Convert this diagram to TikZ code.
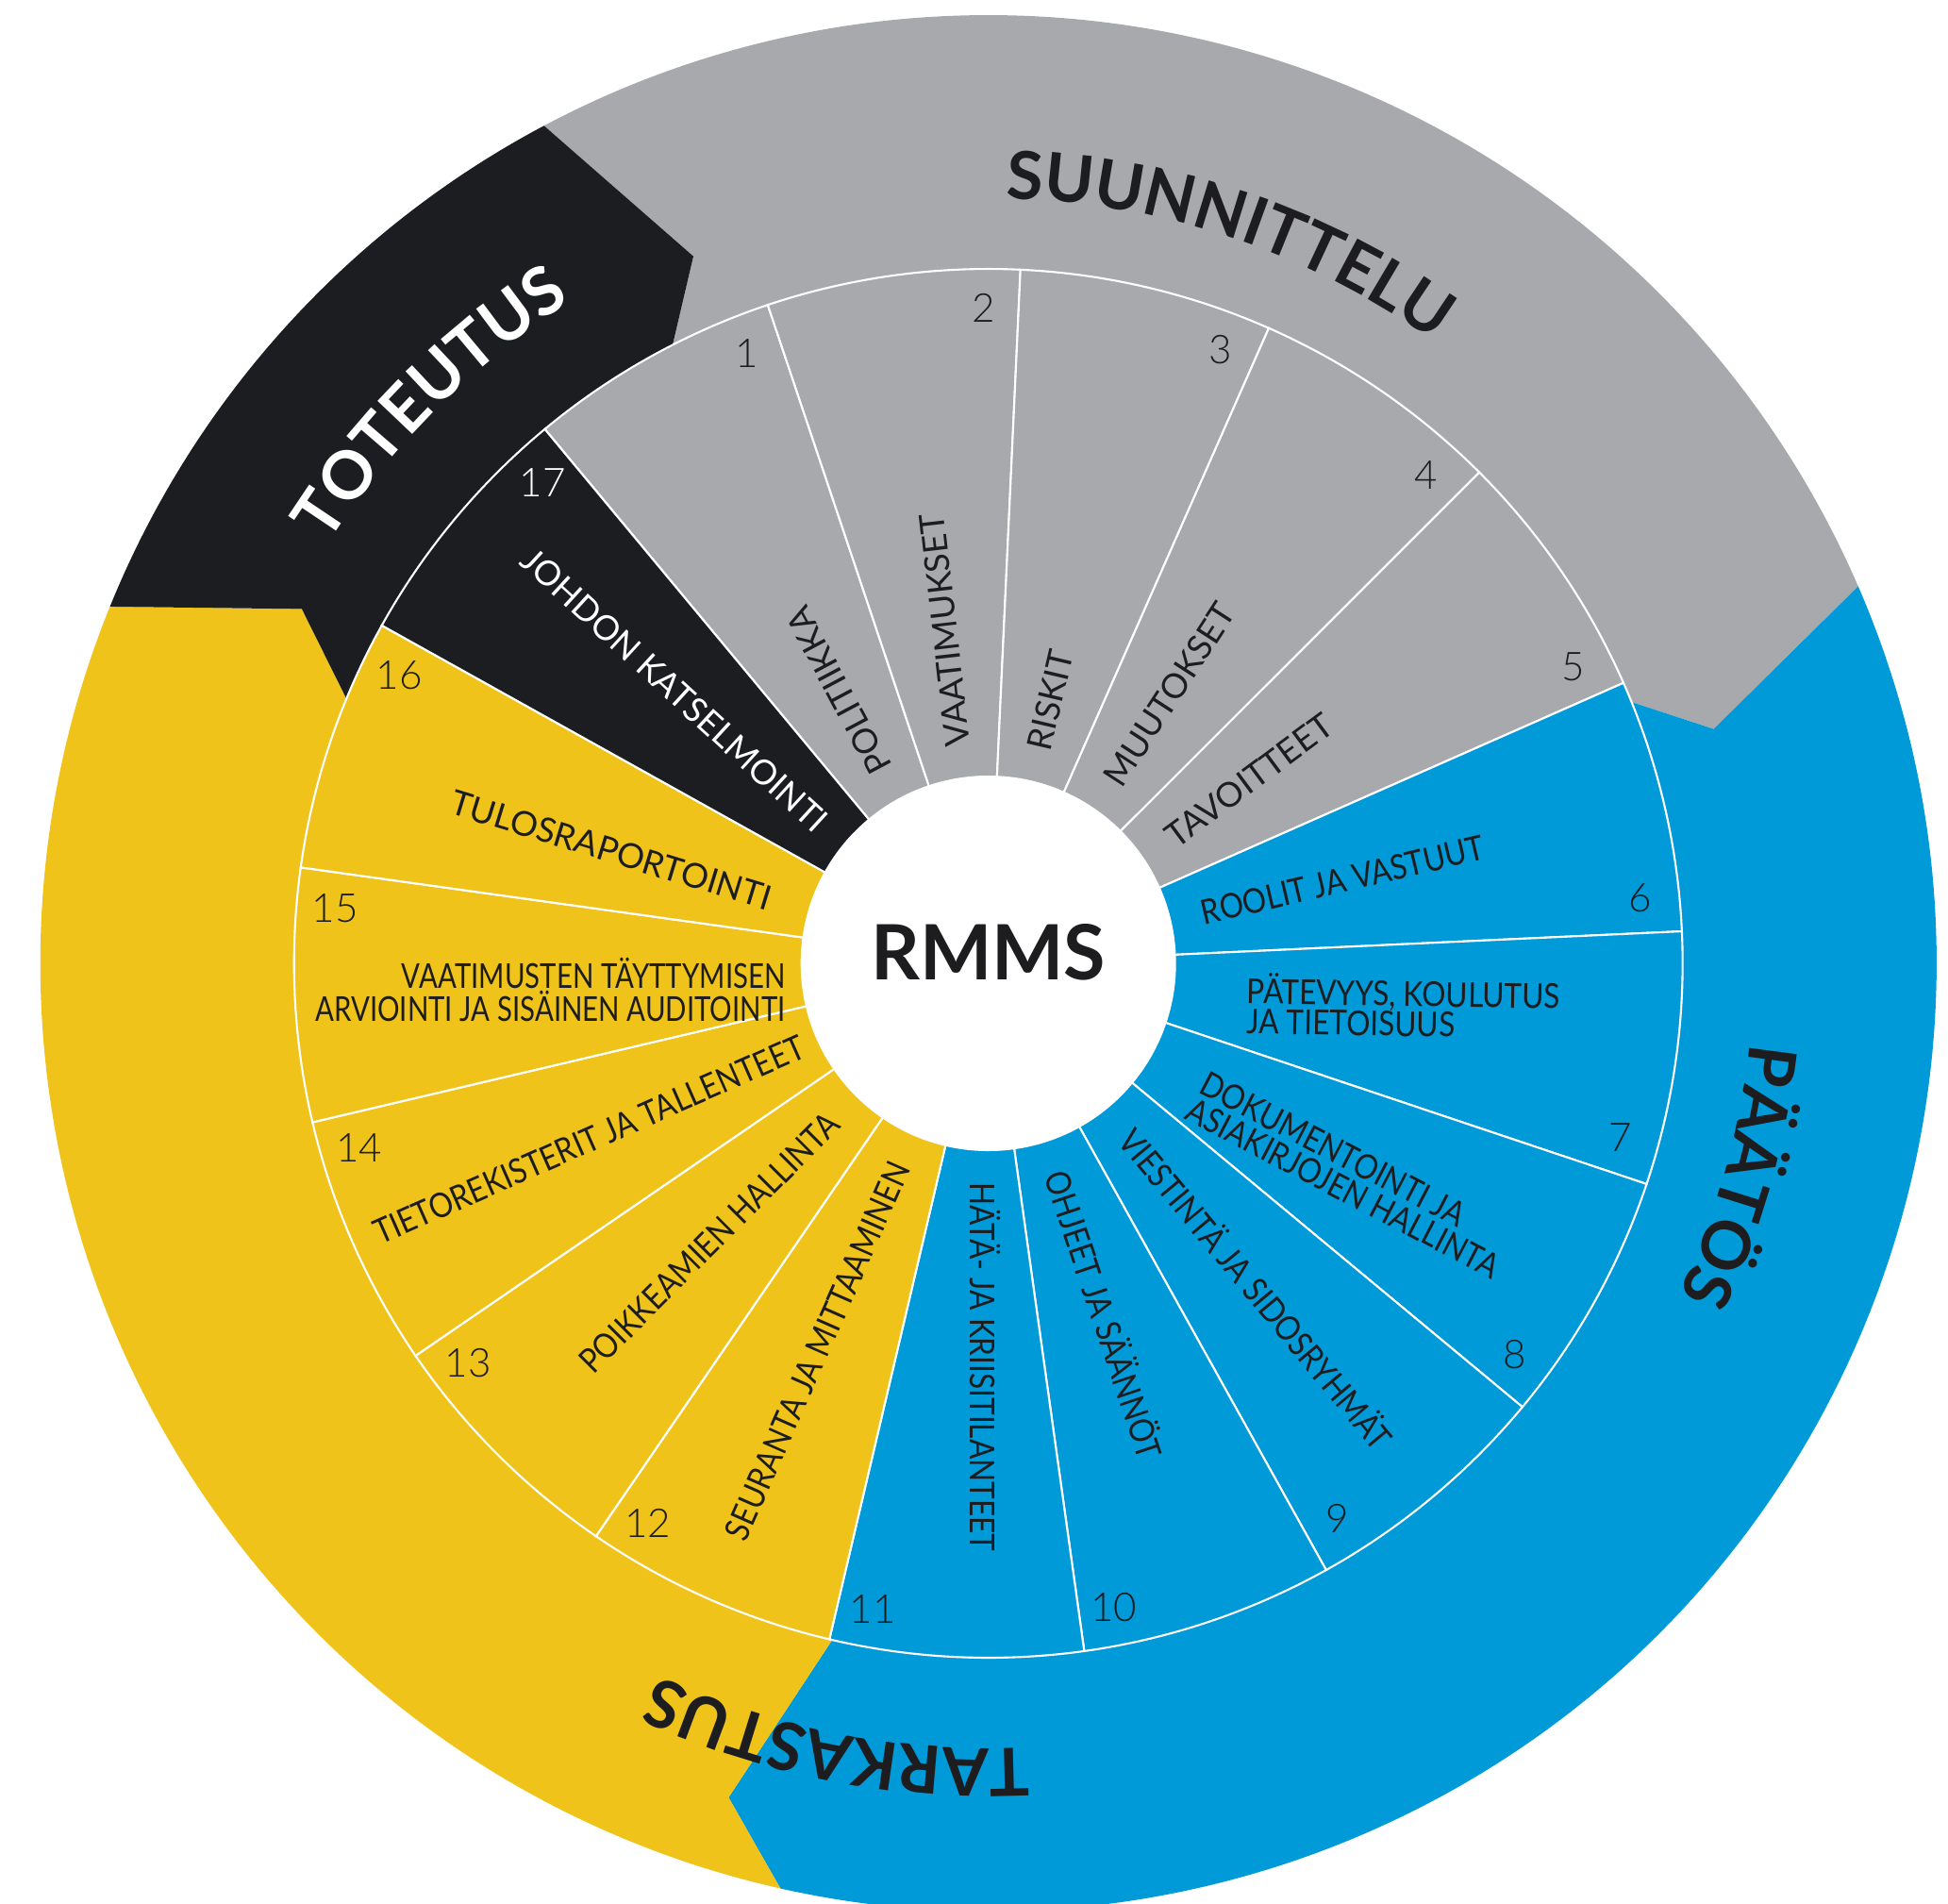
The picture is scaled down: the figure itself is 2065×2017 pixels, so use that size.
\documentclass[tikz,border=0pt]{standalone}
\usepackage{fontspec}
\setmainfont{Lato}
\newfontfamily\headfont[LetterSpace=11]{Lato}
\newfontfamily\narrowfont[FakeStretch=0.87]{Lato}
\newfontfamily\tightfont[FakeStretch=0.81]{Lato}
\IfFontExistsTF{Lato Light}{\newfontfamily\numfont{Lato Light}}{\newfontfamily\numfont{Lato}}
\usetikzlibrary{decorations.text}
\definecolor{rmgray}{HTML}{A7A9AC}
\definecolor{rmblue}{HTML}{009AD9}
\definecolor{rmyellow}{HTML}{F0C31B}
\definecolor{rmblack}{HTML}{1C1D21}
\definecolor{rmtext}{HTML}{1D1D1F}
\setlength{\lineskiplimit}{-10pt}
\newcommand{\phasefont}{\headfont\bfseries\fontsize{30}{32}\selectfont}
\tikzset{
  segment/.style={draw=white,line width=0.9pt},
  seglabel/.style={font=\fontsize{15.5}{13.6}\selectfont,text=rmtext,inner sep=0pt},
  narrowlabel/.style={seglabel,font=\narrowfont\fontsize{15.5}{13.6}\selectfont},
  segnum/.style={font=\numfont\fontsize{18}{18}\selectfont,inner sep=0pt},
  phase/.style={decorate,decoration={text along path,text align=center,text color=#1}},
}

\begin{document}
\begin{tikzpicture}[x=0.015cm,y=0.015cm]
\useasboundingbox (-1047.7,-996) rectangle (1017.3,1021);
% outer ring, four phases
\fill[rmgray] (112.65:812) -- (117.95:1005) arc[start angle=117.95,end angle=23.43,radius=1005]
  -- (17.9:808) -- (22.1:736) arc[start angle=22.1,end angle=117.05,radius=736] -- cycle;
\fill[rmblue] (17.9:808) -- (23.43:1005) arc[start angle=23.43,end angle=-102.67,radius=1005]
  -- (-107.3:926) -- (-103:736) arc[start angle=-103,end angle=22.1,radius=736] -- cycle;
\fill[rmyellow] (-107.3:926) -- (-102.67:1005) arc[start angle=-102.67,end angle=-202.1,radius=1005]
  -- (-207.3:819) -- (-202.4:736) arc[start angle=-202.4,end angle=-103,radius=736] -- cycle;
\fill[rmblack] (-207.3:819) -- (-202.1:1005) arc[start angle=-202.1,end angle=-242.05,radius=1005]
  -- (-247.35:812) -- (-242.95:736) arc[start angle=-242.95,end angle=-202.4,radius=736] -- cycle;
% 17 segments
\foreach \k/\col in {1/rmgray,2/rmgray,3/rmgray,4/rmgray,5/rmgray,6/rmblue,7/rmblue,8/rmblue,9/rmblue,
    10/rmblue,11/rmblue,12/rmyellow,13/rmyellow,14/rmyellow,15/rmyellow,16/rmyellow,17/rmblack} {
  \pgfmathsetmacro{\a}{129.7-21.176*(\k-1)}
  \pgfmathsetmacro{\b}{\a-21.176}
  \filldraw[segment,fill=\col] (0,0) -- (\a:736) arc[start angle=\a,end angle=\b,radius=736] -- cycle;
}
\node[circle,fill=white,minimum size=5.97cm,inner sep=0pt] (hub) at (0,0) {};
\node[font=\bfseries\fontsize{34.5}{36}\selectfont,text=rmtext] (rmms) at (0,12) {RMMS};
% numbers
\foreach \k/\tc in {1/rmtext,2/rmtext,3/rmtext,4/rmtext,5/rmtext,6/rmtext,7/rmtext,8/rmtext,9/rmtext,
    10/rmtext,11/rmtext,12/rmtext,13/rmtext,14/rmtext,15/rmtext,16/rmtext,17/white} {
  \pgfmathsetmacro{\a}{132.8-21.176*\k}
  \node[segnum,text=\tc] (n\k) at (\a:695) {\k};
}
% segment labels
\node[seglabel,anchor=west,rotate=118] (l1) at (119.11:232) {POLITIIKKA};
\node[seglabel,anchor=west,rotate=96.5] (l2) at (97.94:232) {VAATIMUKSET};
\node[seglabel,anchor=west,rotate=76.76] (l3) at (76.76:232) {RISKIT};
\node[seglabel,anchor=west,rotate=57] (l4) at (55.58:232) {MUUTOKSET};
\node[seglabel,anchor=west,rotate=36.5] (l5) at (34.41:232) {TAVOITTEET};
\node[narrowlabel,anchor=west,rotate=13.23] (l6) at (13.23:232) {ROOLIT JA VASTUUT};
\node[narrowlabel,anchor=west,rotate=-1,align=left] (l7) at (-8.8:277) {PÄTEVYYS, KOULUTUS\\JA TIETOISUUS};
\node[narrowlabel,anchor=west,rotate=-27.5,align=left] (l8) at (-32.3:260) {DOKUMENTOINTI JA\\ASIAKIRJOJEN HALLINTA};
\node[narrowlabel,anchor=west,rotate=-50.29] (l9) at (-50.29:232) {VIESTINTÄ JA SIDOSRYHMÄT};
\node[narrowlabel,anchor=west,rotate=-71.47] (l10) at (-71.47:232) {OHJEET JA SÄÄNNÖT};
\node[narrowlabel,anchor=west,rotate=-90] (l11) at (-90.9:232) {HÄTÄ- JA KRIISITILANTEET};
\node[narrowlabel,anchor=east,rotate=66.18] (l12) at (-113.82:232) {SEURANTA JA MITTAAMINEN};
\node[narrowlabel,anchor=east,rotate=45] (l13) at (-135:232) {POIKKEAMIEN HALLINTA};
\node[narrowlabel,anchor=east,rotate=23.83] (l14) at (-156.17:215) {TIETOREKISTERIT JA TALLENTEET};
\node[seglabel,anchor=east,align=right,font=\tightfont\fontsize{15.5}{15.2}\selectfont] (l15) at (187.4:216.5)
  {VAATIMUSTEN TÄYTTYMISEN\\ARVIOINTI JA SISÄINEN AUDITOINTI};
\node[seglabel,anchor=east,rotate=-17] (l16) at (163.5:240) {TULOSRAPORTOINTI};
\node[seglabel,anchor=east,rotate=-42.5,text=white] (l17) at (140.3:228) {JOHDON KATSELMOINTI};
% phase titles
\path[phase=rmtext,decoration={text={|\phasefont|SUUNNITTELU}}]
  (106.5:811) arc[start angle=106.5,end angle=36.5,radius=811];
\path[phase=rmtext,decoration={text={|\phasefont|PÄÄTÖS}}]
  (14.2:812) arc[start angle=14.2,end angle=-45.8,radius=812];
\path[phase=rmtext,decoration={text={|\phasefont|TARKASTUS}}]
  (-66:832) arc[start angle=-66,end angle=-136,radius=832];
\path[phase=white,decoration={text={|\phasefont|TOTEUTUS}}]
  (164.9:829) arc[start angle=164.9,end angle=104.9,radius=829];
\end{tikzpicture}
\end{document}
